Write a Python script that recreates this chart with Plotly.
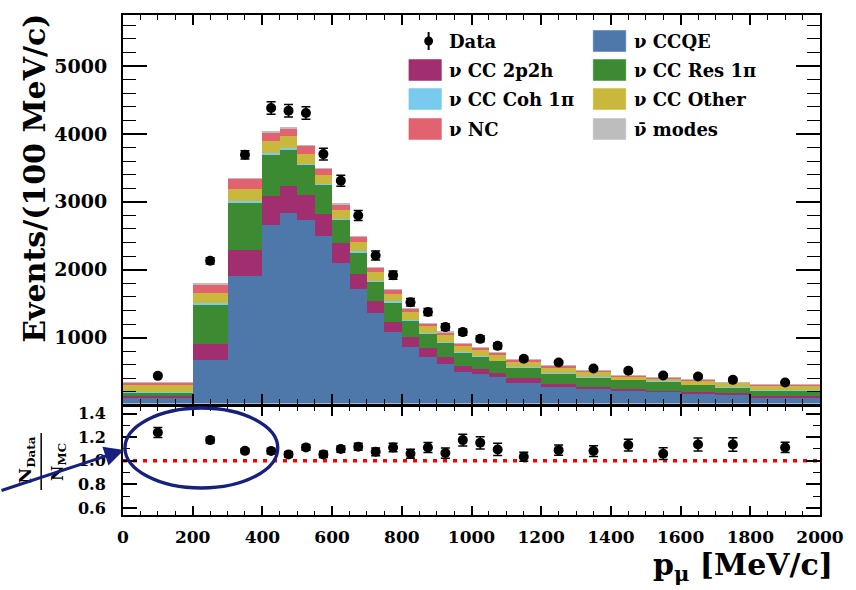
import numpy as np
import plotly.graph_objects as go

# ---------------- data ----------------
bin_edges = [0, 200, 300, 400, 450, 500, 550, 600, 650, 700, 750, 800, 850, 900,
             950, 1000, 1050, 1100, 1200, 1300, 1400, 1500, 1600, 1700, 1800, 2000]

ccqe = [120, 673, 1900, 2651, 2834, 2735, 2499, 2097, 1714, 1361, 1090, 864, 722,
        610, 501, 462, 418, 339, 280, 242, 216, 202, 180, 165, 125]
cc2p2h = [27, 236, 383, 427, 402, 368, 320, 295, 226, 171, 147, 148, 123,
          103, 84, 74, 68, 65, 40, 38, 30, 19, 17, 18, 20]
ccres1pi = [50, 584, 707, 624, 540, 442, 431, 343, 319, 294, 286, 246, 211,
            221, 196, 186, 172, 156, 157, 138, 132, 132, 108, 88, 76]
cccoh1pi = [8, 15, 20, 20, 20, 18, 15, 12, 10, 10, 9, 8, 7,
            7, 6, 6, 5, 5, 5, 4, 3, 3, 3, 3, 3]
ccother = [100, 147, 177, 166, 166, 144, 133, 135, 132, 129, 113, 104, 110,
           100, 95, 92, 88, 90, 80, 73, 50, 47, 56, 58, 65]
nc = [40, 133, 152, 138, 123, 122, 88, 84, 88, 67, 59, 54, 40,
      40, 37, 34, 30, 28, 23, 20, 17, 15, 14, 13, 16]
antinu = [1, 3, 4, 4, 4, 4, 3, 3, 3, 2, 2, 2, 2,
          2, 1, 1, 1, 1, 1, 1, 1, 1, 1, 1, 1]

data = [437, 2131, 3692, 4380, 4340, 4306, 3702, 3309, 2798, 2209, 1920, 1520, 1376,
        1155, 1081, 982, 879, 688, 633, 545, 511, 442, 427, 378, 339]
data_err = [21, 46, 61, 92, 92, 92, 86, 81, 75, 66, 62, 55, 52,
            48, 46, 44, 42, 26, 25, 23, 23, 21, 21, 19, 13]

ratio = [1.24, 1.175, 1.084, 1.082, 1.054, 1.113, 1.054, 1.099, 1.118, 1.076, 1.113, 1.06, 1.113,
         1.065, 1.175, 1.152, 1.096, 1.034, 1.09, 1.082, 1.133, 1.06, 1.138, 1.138, 1.113]
ratio_err = [0.042, 0.025, 0.018, 0.023, 0.023, 0.024, 0.026, 0.027, 0.030, 0.033, 0.036, 0.038, 0.042,
             0.044, 0.05, 0.052, 0.052, 0.039, 0.043, 0.046, 0.05, 0.05, 0.055, 0.058, 0.043]

components = [
    ("ν CCQE", ccqe, "#4e77aa"),
    ("ν CC 2p2h", cc2p2h, "#a12f70"),
    ("ν CC Res 1π", ccres1pi, "#3c8a31"),
    ("ν CC Coh 1π", cccoh1pi, "#79cbee"),
    ("ν CC Other", ccother, "#c9b83b"),
    ("ν NC", nc, "#e2636f"),
    ("ν\u0304 modes", antinu, "#bdbdbd"),
]

# ---------------- geometry helpers ----------------
W, H = 856, 590
ML, MR, MT, MB = 123, 26, 15, 75
PW, PH = W - ML - MR, H - MT - MB


def px(xp):
    return (xp - ML) / PW


def py(yp):
    return (H - MB - yp) / PH


FONT = "DejaVu Serif"
NAVY = "#17207c"

edges = np.array(bin_edges, dtype=float)
centers = (edges[:-1] + edges[1:]) / 2
widths = np.diff(edges)

fig = go.Figure()

for name, vals, col in components:
    fig.add_trace(go.Bar(
        x=centers, y=vals, width=widths, name=name,
        marker=dict(color=col, line=dict(width=0)),
        xaxis="x", yaxis="y", showlegend=False, hoverinfo="skip"))

fig.add_trace(go.Scatter(
    x=centers, y=data, mode="markers", name="Data",
    marker=dict(color="black", size=10),
    error_y=dict(type="data", array=data_err, color="black", thickness=1.5, width=4.5),
    xaxis="x", yaxis="y", showlegend=False))

fig.add_trace(go.Scatter(
    x=[bin_edges[0], bin_edges[-1]], y=[1, 1], mode="lines",
    line=dict(color="#ff0000", width=3.5, dash="4px,6px"),
    xaxis="x2", yaxis="y2", showlegend=False, hoverinfo="skip"))

fig.add_trace(go.Scatter(
    x=centers, y=ratio, mode="markers", name="Ratio",
    marker=dict(color="black", size=10),
    error_y=dict(type="data", array=ratio_err, color="black", thickness=1.5, width=4.5),
    xaxis="x2", yaxis="y2", showlegend=False))

axis_common = dict(showline=True, linewidth=2, linecolor="black", mirror="ticks",
                   ticks="inside", tickcolor="black", tickwidth=1.5,
                   showgrid=False, zeroline=False)

fig.update_layout(
    width=W, height=H,
    margin=dict(l=ML, r=MR, t=MT, b=MB),
    paper_bgcolor="white", plot_bgcolor="white",
    barmode="stack", bargap=0,
    font=dict(family=FONT, color="black", weight="bold"),
    xaxis=dict(domain=[0, 1], anchor="y", range=[0, 2000], dtick=200, tick0=0,
               ticklen=10, showticklabels=False,
               minor=dict(ticks="inside", dtick=50, ticklen=5, tickwidth=1.2, tickcolor="black"),
               **axis_common),
    yaxis=dict(domain=[py(403.5), 1], anchor="x", range=[30, 5750], dtick=1000, tick0=0,
               ticklen=24, ticklabelstandoff=10,
               tickfont=dict(family=FONT, size=19, color="black", weight="bold"),
               minor=dict(ticks="inside", dtick=200, ticklen=13, tickwidth=1.2, tickcolor="black"),
               **axis_common),
    xaxis2=dict(domain=[0, 1], anchor="y2", matches="x", range=[0, 2000], dtick=200, tick0=0,
                ticklen=9, ticklabelstandoff=6,
                tickfont=dict(family=FONT, size=17, color="black", weight="bold"),
                minor=dict(ticks="inside", dtick=50, ticklen=4.5, tickwidth=1.2, tickcolor="black"),
                **axis_common),
    yaxis2=dict(domain=[0, py(406.5)], anchor="x2", range=[0.54, 1.46], dtick=0.2, tick0=0,
                tickformat=".1f", ticklen=14, ticklabelstandoff=12,
                tickfont=dict(family=FONT, size=16, color="black", weight="bold"),
                minor=dict(ticks="inside", dtick=0.1, ticklen=7, tickwidth=1.2, tickcolor="black"),
                **axis_common),
)

shapes = []
annotations = []

# ---- manual legend (two columns, ROOT style) ----
row_y = [41, 70, 99, 129]
col_sw = [413, 600]
col_tx = [452, 639]
legend_layout = [
    (0, 0, "Data", None),
    (1, 0, components[0][0], components[0][2]),
    (0, 1, components[1][0], components[1][2]),
    (1, 1, components[2][0], components[2][2]),
    (0, 2, components[3][0], components[3][2]),
    (1, 2, components[4][0], components[4][2]),
    (0, 3, components[5][0], components[5][2]),
    (1, 3, components[6][0], components[6][2]),
]
for c, r, label, col in legend_layout:
    yc = row_y[r]
    if col is None:
        xc = col_sw[c] + 20
        shapes.append(dict(type="line", xref="paper", yref="paper",
                           x0=px(xc), x1=px(xc), y0=py(yc - 9), y1=py(yc + 9),
                           line=dict(color="black", width=2)))
        shapes.append(dict(type="circle", xref="paper", yref="paper",
                           x0=px(xc - 4.5), x1=px(xc + 4.5), y0=py(yc + 4.5), y1=py(yc - 4.5),
                           fillcolor="black", line=dict(color="black", width=0)))
    else:
        shapes.append(dict(type="rect", xref="paper", yref="paper",
                           x0=px(col_sw[c]), x1=px(col_sw[c] + 33),
                           y0=py(yc + 10.5), y1=py(yc - 10.5),
                           fillcolor=col, line=dict(color=col, width=0.5)))
    annotations.append(dict(text=label, xref="paper", yref="paper",
                            x=px(col_tx[c]), y=py(yc), xanchor="left", yanchor="middle",
                            showarrow=False,
                            font=dict(family=FONT, size=18, color="black", weight="bold")))

# ---- axis titles ----
annotations.append(dict(text="Events/(100 MeV/c)", xref="paper", yref="paper",
                        x=px(33), y=py(12), xanchor="center", yanchor="top",
                        textangle=-90, showarrow=False,
                        font=dict(family=FONT, size=30, color="black", weight="bold")))
annotations.append(dict(text="p<sub>μ</sub> [MeV/c]", xref="paper", yref="paper",
                        x=px(845), y=py(566), xanchor="right", yanchor="middle",
                        showarrow=False,
                        font=dict(family=FONT, size=30, color="black", weight="bold")))
annotations.append(dict(text="N<sub>Data</sub>", xref="paper", yref="paper",
                        x=px(25), y=py(460), xanchor="center", yanchor="middle",
                        textangle=-90, showarrow=False,
                        font=dict(family=FONT, size=17, color="black", weight="bold")))
annotations.append(dict(text="N<sub>MC</sub>", xref="paper", yref="paper",
                        x=px(57), y=py(462), xanchor="center", yanchor="middle",
                        textangle=-90, showarrow=False,
                        font=dict(family=FONT, size=17, color="black", weight="bold")))
shapes.append(dict(type="line", xref="paper", yref="paper",
                   x0=px(40), x1=px(40), y0=py(433), y1=py(490),
                   line=dict(color="black", width=1.5)))

# ---- highlight ellipse and arrow ----
shapes.append(dict(type="circle", xref="paper", yref="paper",
                   x0=px(125), x1=px(280), y0=py(488), y1=py(408),
                   line=dict(color=NAVY, width=3.3)))
annotations.append(dict(text="", xref="paper", yref="paper",
                        x=px(124), y=py(450), ax=-124, ay=41,
                        showarrow=True, arrowhead=2, arrowsize=1.3, arrowwidth=3,
                        arrowcolor=NAVY, standoff=0))

fig.update_layout(shapes=shapes, annotations=annotations)

fig.write_html("out.html")
